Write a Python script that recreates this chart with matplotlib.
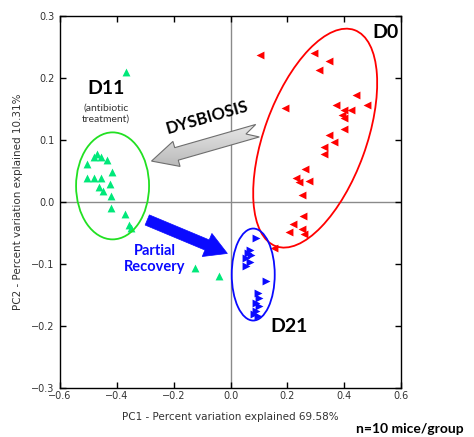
import numpy as np
import matplotlib
matplotlib.use("Agg")
import matplotlib.pyplot as plt
from matplotlib.patches import Ellipse, Polygon
from matplotlib.transforms import ScaledTranslation, IdentityTransform

# PCoA scores per time point (PC1, PC2)
d0_pc1 = [0.105, 0.295, 0.347, 0.312, 0.443, 0.482, 0.193, 0.373, 0.400, 0.423,
          0.394, 0.400, 0.398, 0.347, 0.363, 0.330, 0.330, 0.261, 0.230, 0.242,
          0.277, 0.252, 0.256, 0.219, 0.252, 0.207, 0.260, 0.152]
d0_pc2 = [0.237, 0.240, 0.228, 0.213, 0.172, 0.156, 0.151, 0.156, 0.149, 0.148,
          0.141, 0.136, 0.118, 0.108, 0.096, 0.088, 0.077, 0.054, 0.038, 0.032,
          0.034, 0.011, -0.022, -0.035, -0.043, -0.049, -0.051, -0.074]

d11_pc1 = [-0.506, -0.480, -0.471, -0.457, -0.436, -0.416, -0.506, -0.480, -0.457,
           -0.425, -0.463, -0.448, -0.421, -0.422, -0.371, -0.357, -0.350, -0.368,
           -0.126, -0.039]
d11_pc2 = [0.061, 0.072, 0.077, 0.072, 0.067, 0.049, 0.038, 0.038, 0.038,
           0.029, 0.024, 0.017, 0.010, -0.010, -0.020, -0.037, -0.042, 0.210,
           -0.106, -0.120]

d21_pc1 = [0.088, 0.067, 0.061, 0.072, 0.055, 0.067, 0.055, 0.125, 0.096, 0.102,
           0.090, 0.102, 0.090, 0.096, 0.084]
d21_pc2 = [-0.058, -0.077, -0.083, -0.085, -0.091, -0.096, -0.104, -0.127, -0.147,
           -0.155, -0.163, -0.168, -0.176, -0.184, -0.181]

x_ticks = [-0.6, -0.4, -0.2, 0.0, 0.2, 0.4, 0.6]
y_ticks = [-0.3, -0.2, -0.1, 0.0, 0.1, 0.2, 0.3]

RED = "#ff0000"
GREEN_PT = "#00e87a"
GREEN_RING = "#22e022"
BLUE = "#0a0aff"

fig = plt.figure(figsize=(4.74, 4.37), dpi=100)
ax = fig.add_axes([60 / 474, 1 - 388 / 437, 341 / 474, 372 / 437])

ax.axhline(0, color="#8a8a8a", lw=1.0, zorder=1)
ax.axvline(0, color="#8a8a8a", lw=1.0, zorder=1)

ax.scatter(d0_pc1, d0_pc2, marker="<", s=32, color=RED, linewidths=0, zorder=3)
ax.scatter(d11_pc1, d11_pc2, marker="^", s=32, color=GREEN_PT, linewidths=0, zorder=3)
ax.scatter(d21_pc1, d21_pc2, marker=">", s=32, color=BLUE, linewidths=0, zorder=3)

ax.set_xlim(-0.6, 0.6)
ax.set_ylim(-0.3, 0.3)
ax.set_xticks(x_ticks)
ax.set_yticks(y_ticks)
ax.set_xticklabels([f"{t:.1f}".replace("-", "\u2212") for t in x_ticks])
ax.set_yticklabels([f"{t:.1f}".replace("-", "\u2212") for t in y_ticks])
ax.tick_params(direction="in", length=4, width=1, top=True, right=True,
               labelsize=7, labelcolor="#333333", pad=2)
ax.tick_params(axis="y", pad=4)
for sp in ax.spines.values():
    sp.set_linewidth(1.0)
ax.set_xlabel("PC1 - Percent variation explained 69.58%", fontsize=7.5,
              color="#333333", labelpad=8)
ax.set_ylabel("PC2 - Percent variation explained 10.31%", fontsize=7.5,
              color="#333333", labelpad=6)


def ring(cx, cy, w_px, h_px, angle, color):
    # ellipse sized in pixels, centred on a data point
    tr = fig.dpi_scale_trans + ScaledTranslation(cx, cy, ax.transData)
    e = Ellipse((0, 0), w_px / 100, h_px / 100, angle=angle, transform=tr,
                fill=False, edgecolor=color, lw=1.3, zorder=4)
    ax.add_patch(e)


ring(0.298, 0.103, 230, 102, 70, RED)
ring(-0.415, 0.026, 73, 107, 0, GREEN_RING)
ring(0.080, -0.117, 43, 92, 0, BLUE)


def arrow_poly(start, end, shaft_w, head_w, head_len, notch=0.0):
    p0 = ax.transData.transform(start)
    p1 = ax.transData.transform(end)
    d = p1 - p0
    L = np.hypot(*d)
    u = d / L
    n = np.array([-u[1], u[0]])
    hb = p1 - u * head_len
    pts = [p0 + n * shaft_w / 2, hb + n * shaft_w / 2, hb + n * head_w / 2, p1,
           hb - n * head_w / 2, hb - n * shaft_w / 2, p0 - n * shaft_w / 2]
    if notch:
        pts.append(p0 + u * notch)
    return np.array(pts)


fig.canvas.draw()

# dysbiosis arrow (D0 -> D11), shaded grey
gpts = arrow_poly((0.095, 0.115), (-0.278, 0.066), 13, 26, 26, notch=12)
gpoly = Polygon(gpts, closed=True, transform=IdentityTransform(),
                facecolor="none", edgecolor="#6e6e6e", lw=0.8, zorder=6)
ax.add_patch(gpoly)
grad = np.linspace(0, 1, 64).reshape(-1, 1)
img = ax.imshow(grad, cmap=matplotlib.colors.LinearSegmentedColormap.from_list(
    "g", ["#f2f2f2", "#a8a8a8"]), aspect="auto",
    extent=(-0.3, 0.12, 0.03, 0.14), origin="upper", zorder=5)
img.set_clip_path(Polygon(gpts, closed=True, transform=IdentityTransform()))
ax.set_xlim(-0.6, 0.6)
ax.set_ylim(-0.3, 0.3)

# partial recovery arrow (D11 -> D21)
bpts = arrow_poly((-0.293, -0.029), (-0.011, -0.083), 11, 25, 22)
ax.add_patch(Polygon(bpts, closed=True, transform=IdentityTransform(),
                     facecolor=BLUE, edgecolor=BLUE, lw=0.5, zorder=6))

lbl = dict(family=["Lato", "DejaVu Sans"], fontweight="bold", ha="center", va="center")
fig.text(385 / 474, 1 - 32 / 437, "D0", fontsize=14, **lbl)
fig.text(106 / 474, 1 - 89 / 437, "D11", fontsize=14, **lbl)
fig.text(106 / 474, 1 - 114 / 437, "(antibiotic\ntreatment)", fontsize=7.5,
         family=["Lato", "DejaVu Sans"], color="#333333", ha="center", va="center",
         linespacing=1.3)
fig.text(289 / 474, 1 - 326 / 437, "D21", fontsize=14, **lbl)
fig.text(207 / 474, 1 - 117 / 437, "DYSBIOSIS", fontsize=12, rotation=16, **lbl)
fig.text(155 / 474, 1 - 259 / 437, "Partial\nRecovery", fontsize=10.5,
         color=BLUE, linespacing=1.2, **lbl)
fig.text(410 / 474, 1 - 429 / 437, "n=10 mice/group", fontsize=10, **lbl)

fig.savefig("out.png", dpi=100)
